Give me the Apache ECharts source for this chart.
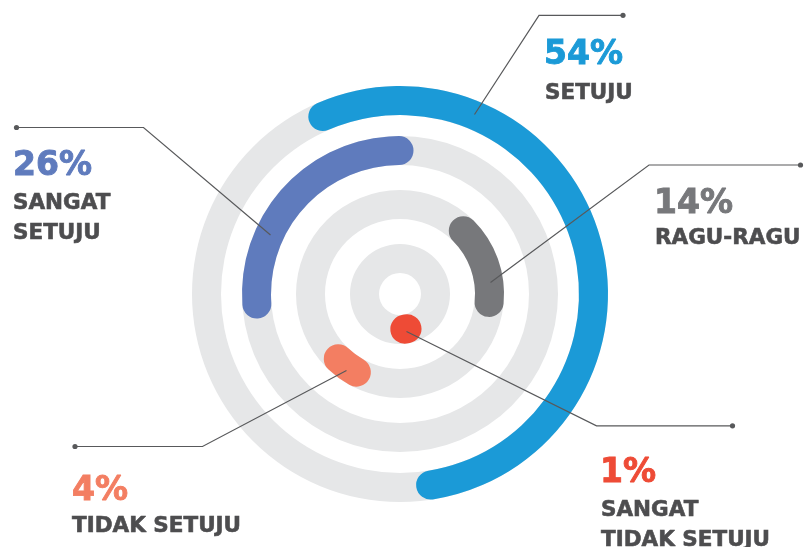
<!DOCTYPE html>
<html><head><meta charset="utf-8">
<script src="https://cdn.jsdelivr.net/npm/echarts@6/dist/echarts.min.js"></script>
<style>html,body{margin:0;padding:0;background:#fff}#c{width:804px;height:547px}</style>
</head><body><div id="c"></div>
<script>
// ---- data ----
const categories = ['SETUJU', 'SANGAT SETUJU', 'RAGU-RAGU', 'TIDAK SETUJU', 'SANGAT TIDAK SETUJU'];
const values = [54, 26, 14, 4, 1];
const nameLines = [['SETUJU'], ['SANGAT', 'SETUJU'], ['RAGU-RAGU'], ['TIDAK SETUJU'], ['SANGAT', 'TIDAK SETUJU']];

// ---- layout / style ----
const colors = ['#1b9ad7', '#5f7bbd', '#77787b', '#f37e62', '#ee4b36'];
const ringOf = [3, 2, 1, 1, 0];
const startAngles = [113.5, 184, 45, 240.8, 281.4];
const ringBands = [[21, 50], [75, 104], [129, 158], [179, 208]];
const withTrack = [true, true, true, false, true];
const center = [400, 294];
const textDark = '#4d4d4f';
const lineColor = '#58595b';
const leaderLines = [
  [[474.5, 114.5], [539, 15.3], [623, 15.3]],
  [[270.5, 235], [143.5, 127.5], [16.5, 127.5]],
  [[490.5, 282.5], [649, 165], [800.5, 165]],
  [[346.5, 370.5], [202.5, 446.5], [75, 446.5]],
  [[406.5, 331.5], [596.5, 425.8], [732.5, 425.8]]
];
const pctPos = [[544, 55], [13, 166], [654, 204], [72, 491.5], [600, 473.5]];
const namePos = [[545, 93], [13, 203], [655, 238], [72, 526], [601, 510]];
const nameGap = 30;

const polar = [], angleAxis = [], radiusAxis = [], series = [];
categories.forEach((c, i) => {
  polar.push({ center: center, radius: ringBands[ringOf[i]] });
  angleAxis.push({ polarIndex: i, type: 'value', min: 0, max: 100, startAngle: startAngles[i], clockwise: true, show: false,
    axisLine: { show: false }, axisTick: { show: false }, axisLabel: { show: false }, splitLine: { show: false } });
  radiusAxis.push({ polarIndex: i, type: 'category', data: [c], show: false,
    axisLine: { show: false }, axisTick: { show: false }, axisLabel: { show: false }, splitLine: { show: false } });
  series.push({
    type: 'bar', name: c, coordinateSystem: 'polar', polarIndex: i,
    data: [values[i]], roundCap: true, barCategoryGap: '0%', barWidth: '100%',
    showBackground: withTrack[i], backgroundStyle: { color: '#e6e7e8', opacity: 1 },
    itemStyle: { color: colors[i] }, silent: true, animation: false
  });
});

const graphic = [];
leaderLines.forEach((pts) => {
  graphic.push({ type: 'polyline', shape: { points: pts }, style: { stroke: lineColor, lineWidth: 1.2, fill: null }, z: 100 });
  const e = pts[pts.length - 1];
  graphic.push({ type: 'circle', shape: { cx: e[0], cy: e[1], r: 2.6 }, style: { fill: lineColor }, z: 100 });
});
categories.forEach((c, i) => {
  graphic.push({ type: 'text', z: 100, style: { text: values[i] + '%', x: pctPos[i][0], y: pctPos[i][1],
    font: 'bold 33px "DejaVu Sans"', fill: colors[i], stroke: colors[i], lineWidth: 0.9,
    align: 'left', verticalAlign: 'middle' } });
  nameLines[i].forEach((ln, k) => {
    graphic.push({ type: 'text', z: 100, style: { text: ln, x: namePos[i][0], y: namePos[i][1] + k * nameGap,
      font: 'bold 21.5px "DejaVu Sans"', fill: textDark, stroke: textDark, lineWidth: 0.6,
      align: 'left', verticalAlign: 'middle' } });
  });
});

const chart = echarts.init(document.getElementById('c'), null, { renderer: 'canvas' });
chart.setOption({ animation: false, backgroundColor: '#fff', polar, angleAxis, radiusAxis, series, graphic });
</script></body></html>
